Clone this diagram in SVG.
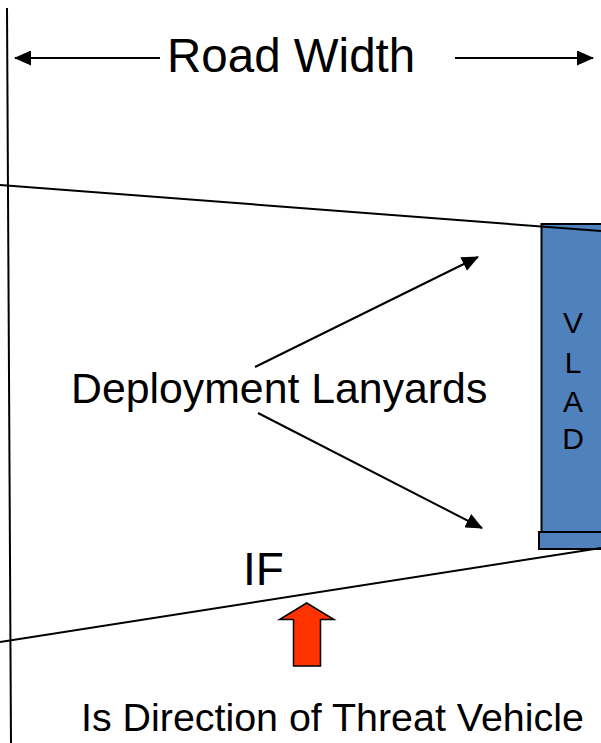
<svg xmlns="http://www.w3.org/2000/svg" width="601" height="743" viewBox="0 0 601 743">
  <style>
    .txt { font-family: "Liberation Sans", Arial, sans-serif; fill: #000; }
    .ln { stroke: #000; stroke-width: 2; fill: none; }
    .vlad { fill: #4F81BD; stroke: #000; stroke-width: 2; }
  </style>
  <defs>
    <marker id="head" viewBox="0 0 17 15" refX="16" refY="7.5" markerWidth="17" markerHeight="15" markerUnits="userSpaceOnUse" orient="auto">
      <path d="M0,0 L17,7.5 L0,15 Z" fill="#000"/>
    </marker>
  </defs>
  <rect width="601" height="743" fill="#fff"/>

  <!-- VLAD unit -->
  <g id="vlad">
    <rect class="vlad" x="541.5" y="224" width="70" height="308"/>
    <rect class="vlad" x="539" y="532" width="72" height="17"/>
    <text class="txt" font-size="30" text-anchor="middle" x="573" y="333">V</text>
    <text class="txt" font-size="30" text-anchor="middle" x="573" y="373">L</text>
    <text class="txt" font-size="30" text-anchor="middle" x="573" y="412">A</text>
    <text class="txt" font-size="30" text-anchor="middle" x="573" y="449">D</text>
  </g>

  <!-- road edges and lanyard lines -->
  <g id="connectors">
    <line class="ln" x1="7" y1="8" x2="11" y2="743"/>
    <line class="ln" x1="0" y1="185" x2="601" y2="231"/>
    <line class="ln" x1="0" y1="642" x2="601" y2="548"/>
    <line class="ln" x1="160" y1="58" x2="15" y2="58" marker-end="url(#head)"/>
    <line class="ln" x1="455" y1="58" x2="593" y2="58" marker-end="url(#head)"/>
    <line class="ln" x1="255" y1="367" x2="478" y2="257" marker-end="url(#head)"/>
    <line class="ln" x1="258" y1="413" x2="482" y2="528" marker-end="url(#head)"/>
  </g>

  <g id="road-width">
    <text class="txt" font-size="47.5" x="167" y="72">Road Width</text>
  </g>

  <g id="lanyards">
    <text class="txt" font-size="42.8" x="71" y="403">Deployment Lanyards</text>
  </g>

  <g id="if-label">
    <text class="txt" font-size="46" x="243" y="585">IF</text>
  </g>

  <!-- threat direction arrow -->
  <g id="threat">
    <path d="M306.7,603 L334,619.5 L320.5,619.5 L320.5,666 L293.5,666 L293.5,619.5 L279.5,619.5 Z" fill="#FF3300" stroke="#000" stroke-width="1.5" stroke-linejoin="miter"/>
    <text class="txt" font-size="39.4" x="81" y="731">Is Direction of Threat Vehicle</text>
  </g>
</svg>
